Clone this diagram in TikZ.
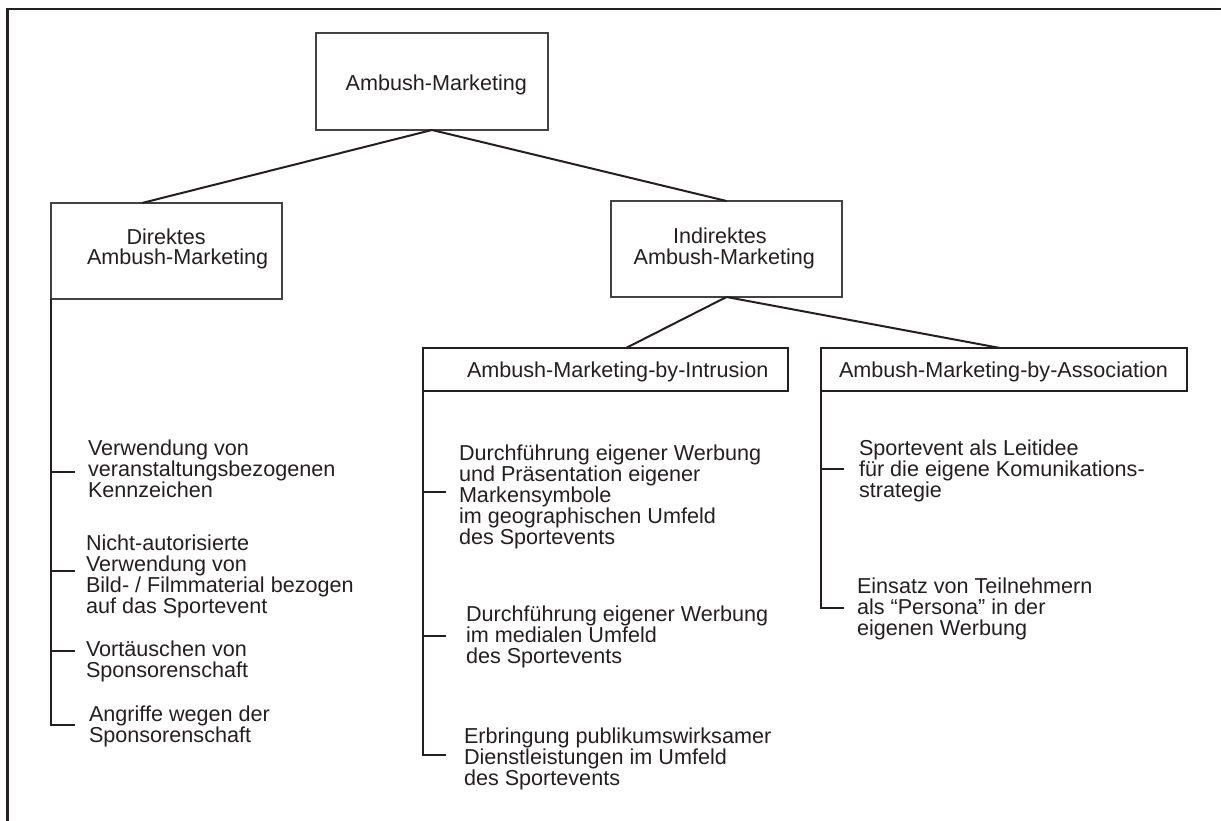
\documentclass[tikz,border=0pt]{standalone}
\usepackage{fontspec}
\setmainfont{Liberation Sans}
\definecolor{ink}{HTML}{231F20}
\begin{document}
\begin{tikzpicture}[x=1pt,y=-1pt,
  txt/.style={font=\fontsize{21.6}{20.9}\selectfont, text=ink, inner sep=0pt, outer sep=0pt, align=left, anchor=base west},
  thinbox/.style={draw=ink!85, line width=1.1pt, inner sep=0pt, outer sep=0pt},
  thickbox/.style={draw=ink, line width=2pt, inner sep=0pt, outer sep=0pt},
  conn/.style={draw=ink, line width=2pt},
  frame/.style={draw=ink, line width=2.6pt}
]
\useasboundingbox (0,0) rectangle (1221,821);
\draw[frame] (7.5,830) -- (7.5,9) -- (1230,9);

% boxes
\node[thinbox, minimum width=232pt, minimum height=97pt] (top) at (432,81.5) {};
\node[thinbox, minimum width=231pt, minimum height=96pt] (direkt) at (166.5,251) {};
\node[thinbox, minimum width=231pt, minimum height=96pt] (indirekt) at (726.5,249) {};
\node[thickbox, minimum width=365pt, minimum height=43pt] (intrusion) at (605.5,369.5) {};
\node[thickbox, minimum width=366pt, minimum height=43pt] (association) at (1004,369.5) {};

% box labels (multi-line nodes are placed by the baseline of their last line)
\node[txt] (topl) at (345.6,91) {Ambush-Marketing};
\node[txt] (direktl) at (87,265) {\hspace*{39.5pt}Direktes\\Ambush-Marketing};
\node[txt] (indirektl) at (633.6,264.5) {\hspace*{39.5pt}Indirektes\\Ambush-Marketing};
\node[txt] (intrusionl) at (467,377) {Ambush-Marketing-by-Intrusion};
\node[txt] (associationl) at (839,377) {Ambush-Marketing-by-Association};

% tree connectors
\draw[conn] (top.south) -- ([xshift=-24.5pt]direkt.north);
\draw[conn] (top.south) -- (indirekt.north);
\draw[conn] (indirekt.south) -- ([xshift=20.5pt]intrusion.north);
\draw[conn] (indirekt.south) -- ([xshift=-4pt]association.north);

% Direktes items
\node[txt] (d1) at (88,497) {Verwendung von\\veranstaltungsbezogenen\\Kennzeichen};
\node[txt] (d2) at (86,613) {Nicht-autorisierte\\Verwendung von\\Bild- / Filmmaterial bezogen\\auf das Sportevent};
\node[txt] (d3) at (86,677.5) {Vortäuschen von\\Sponsorenschaft};
\node[txt] (d4) at (89,742.5) {Angriffe wegen der\\Sponsorenschaft};
\coordinate (d1t) at (75,472);
\coordinate (d2t) at (75,571);
\coordinate (d3t) at (75,651);
\coordinate (d4t) at (75,725);
\draw[conn] (direkt.south west) -- (direkt.south west |- d4t) -- (d4t);
\draw[conn] (direkt.south west |- d1t) -- (d1t);
\draw[conn] (direkt.south west |- d2t) -- (d2t);
\draw[conn] (direkt.south west |- d3t) -- (d3t);

% Intrusion items
\node[txt] (i1) at (459,544.5) {Durchführung eigener Werbung\\und Präsentation eigener\\Markensymbole\\im geographischen Umfeld\\des Sportevents};
\node[txt] (i2) at (466,663.5) {Durchführung eigener Werbung\\im medialen Umfeld\\des Sportevents};
\node[txt] (i3) at (464,785) {Erbringung publikumswirksamer\\Dienstleistungen im Umfeld\\des Sportevents};
\coordinate (i1t) at (446,492);
\coordinate (i2t) at (446,636);
\coordinate (i3t) at (446,755);
\draw[conn] (intrusion.south west) -- (intrusion.south west |- i3t) -- (i3t);
\draw[conn] (intrusion.south west |- i1t) -- (i1t);
\draw[conn] (intrusion.south west |- i2t) -- (i2t);

% Association items
\node[txt] (a1) at (859,497) {Sportevent als Leitidee\\für die eigene Komunikations-\\strategie};
\node[txt] (a2) at (857,635.5) {Einsatz von Teilnehmern\\als “Persona” in der\\eigenen Werbung};
\coordinate (a1t) at (844,469);
\coordinate (a2t) at (844,608);
\draw[conn] (association.south west) -- (association.south west |- a2t) -- (a2t);
\draw[conn] (association.south west |- a1t) -- (a1t);
\end{tikzpicture}
\end{document}
